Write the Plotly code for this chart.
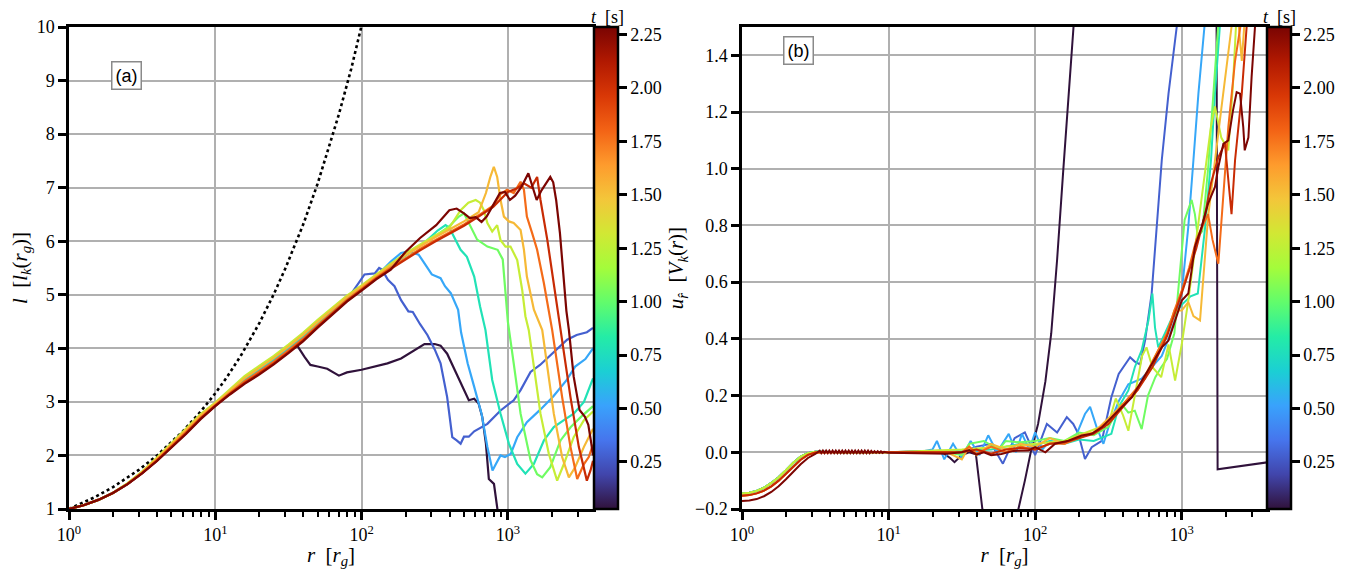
import plotly.graph_objects as go
from plotly.colors import sample_colorscale, sequential

# ---------------- data ----------------
T_MIN, T_MAX = 0.03, 2.285
times = [0.03, 0.28, 0.53, 0.78, 1.03, 1.28, 1.53, 1.78, 2.03, 2.28]
cbar_ticks = [0.25, 0.50, 0.75, 1.00, 1.25, 1.50, 1.75, 2.00, 2.25]

# Keplerian reference curve (dotted) in panel (a)
kep_r = [1, 1.25, 1.5, 2, 2.5, 3, 4, 5, 6, 8, 10, 12, 15, 20, 25, 30, 40, 50, 60, 70, 85, 100, 110]
kep_l = [1.0, 1.12, 1.22, 1.41, 1.58, 1.73, 2.0, 2.24, 2.45, 2.83, 3.16, 3.46, 3.87, 4.47, 5.0, 5.48,
         6.32, 7.07, 7.75, 8.37, 9.22, 10.0, 10.5]

# panel (a): common trunk, log10(r) and l, with the spread of the bundle around it
trunk_lr = [0.0, 0.1, 0.2, 0.3, 0.4, 0.5, 0.6, 0.7, 0.8, 0.9, 1.0, 1.1, 1.2, 1.3, 1.4, 1.5, 1.6, 1.7,
            1.8, 1.9, 2.0, 2.1, 2.2, 2.3, 2.4, 2.5, 2.6, 2.7, 2.8, 2.9, 3.0]
trunk_l = [1.0, 1.07, 1.17, 1.3, 1.47, 1.68, 1.92, 2.18, 2.45, 2.72, 2.95, 3.18, 3.4, 3.58, 3.77, 3.98,
           4.2, 4.45, 4.68, 4.92, 5.12, 5.33, 5.52, 5.7, 5.87, 6.03, 6.18, 6.33, 6.5, 6.68, 6.9]
trunk_spread = [0.0, 0.0, 0.0, 0.0, 0.1, 0.2, 0.4, 0.6, 0.7, 0.6, 0.4, 0.6, 0.9, 1.0, 1.0, 1.0, 1.0,
                0.9, 0.8, 0.7, 0.6, 0.6, 0.7, 0.8, 0.8, 0.8, 0.8, 0.8, 0.8, 0.8, 0.8]
a_shift = [-0.04, -0.03, 0.02, 0.04, 0.07, 0.09, 0.05, -0.02, -0.05, -0.07]

a_depart = [1.5, 1.9, 2.15, 2.35, 2.5, 2.6, 2.8, 2.9, 2.95, 2.25]
a_lr = [
    [1.56, 1.61, 1.65, 1.70, 1.765, 1.845, 1.90, 2.0, 2.086, 2.177, 2.27, 2.36, 2.43, 2.50, 2.54, 2.585,
     2.65, 2.70, 2.733, 2.77, 2.80, 2.825, 2.85, 2.87, 2.905, 2.93, 2.96, 3.0, 3.582],
    [1.95, 2.02, 2.09, 2.12, 2.14, 2.18, 2.225, 2.27, 2.32, 2.35, 2.40, 2.45, 2.50, 2.54, 2.585, 2.62,
     2.65, 2.677, 2.70, 2.733, 2.77, 2.86, 2.95, 3.04, 3.087, 3.155, 3.22, 3.31, 3.405, 3.47, 3.54, 3.582],
    [2.2, 2.27, 2.32, 2.39, 2.42, 2.48, 2.54, 2.57, 2.61, 2.66, 2.68, 2.725, 2.77, 2.82, 2.86, 2.895,
     2.92, 2.95, 2.98, 3.02, 3.064, 3.13, 3.22, 3.31, 3.4, 3.46, 3.53, 3.582],
    [2.45, 2.52, 2.574, 2.60, 2.63, 2.677, 2.72, 2.77, 2.81, 2.847, 2.893, 2.95, 3.007, 3.064, 3.12,
     3.178, 3.246, 3.314, 3.383, 3.45, 3.52, 3.582],
    [2.6, 2.66, 2.70, 2.74, 2.79, 2.86, 2.93, 2.965, 2.98, 3.0, 3.04, 3.087, 3.155, 3.20, 3.235, 3.29,
     3.36, 3.43, 3.50, 3.582],
    [2.677, 2.73, 2.78, 2.81, 2.836, 2.86, 2.893, 2.927, 2.95, 2.984, 3.018, 3.064, 3.098, 3.12, 3.143,
     3.223, 3.28, 3.337, 3.383, 3.45, 3.52, 3.582],
    [2.85, 2.88, 2.904, 2.927, 2.95, 2.973, 3.007, 3.04, 3.087, 3.11, 3.13, 3.178, 3.235, 3.314, 3.371,
     3.417, 3.46, 3.52, 3.582],
    [2.95, 2.995, 3.04, 3.087, 3.11, 3.13, 3.166, 3.2, 3.246, 3.303, 3.371, 3.428, 3.474, 3.52, 3.553, 3.582],
    [3.0, 3.064, 3.11, 3.16, 3.2, 3.223, 3.27, 3.314, 3.36, 3.428, 3.485, 3.54, 3.565, 3.582],
    [2.3, 2.4, 2.51, 2.60, 2.65, 2.70, 2.74, 2.78, 2.82, 2.855, 2.90, 2.946, 2.98, 3.014, 3.05, 3.094,
     3.14, 3.17, 3.197, 3.23, 3.29, 3.31, 3.33, 3.356, 3.38, 3.40, 3.417, 3.45, 3.47, 3.49, 3.527, 3.55,
     3.57, 3.582],
]
a_l = [
    [4.05, 3.84, 3.69, 3.66, 3.62, 3.49, 3.55, 3.6, 3.66, 3.72, 3.81, 3.97, 4.08, 4.08, 4.05, 3.9, 3.53,
     3.25, 3.03, 3.06, 2.97, 2.72, 2.22, 1.56, 1.47, 0.97, 0.3, -0.5, -0.5],
    [5.1, 5.38, 5.4, 5.5, 5.47, 5.28, 5.16, 4.9, 4.69, 4.68, 4.45, 4.25, 3.98, 3.72, 3.09, 2.34, 2.28,
     2.22, 2.35, 2.35, 2.45, 2.59, 2.84, 3.03, 3.22, 3.56, 3.69, 3.91, 4.16, 4.25, 4.3, 4.38],
    [5.62, 5.78, 5.81, 5.75, 5.63, 5.38, 5.31, 5.16, 5.03, 4.72, 4.3, 3.72, 3.28, 2.78, 2.16, 1.72, 1.85,
     2.0, 1.97, 2.03, 2.34, 2.62, 2.85, 3.1, 3.4, 3.66, 3.8, 4.0],
    [6.02, 6.2, 6.3, 6.25, 6.09, 5.84, 5.71, 5.34, 4.78, 4.34, 3.41, 2.78, 2.22, 1.84, 1.66, 1.84, 2.28,
     2.53, 2.66, 2.78, 3.0, 3.44],
    [6.28, 6.45, 6.52, 6.3, 6.03, 5.9, 5.84, 5.66, 5.2, 4.5, 3.72, 2.78, 1.91, 1.65, 1.59, 1.78, 2.28,
     2.53, 2.72, 2.92],
    [6.58, 6.72, 6.77, 6.72, 6.58, 6.34, 6.18, 6.30, 6.02, 5.90, 5.90, 5.65, 5.09, 4.6, 4.34, 2.78, 2.03,
     1.53, 1.84, 2.34, 2.66, 2.82],
    [6.9, 7.2, 7.39, 7.2, 6.77, 6.46, 6.37, 6.34, 6.21, 5.84, 5.34, 4.72, 4.34, 2.78, 1.97, 1.59, 1.78,
     2.16, 2.5],
    [6.88, 6.96, 6.9, 7.11, 6.96, 6.46, 6.15, 5.84, 5.22, 4.34, 3.09, 2.16, 1.56, 1.84, 1.97, 2.2],
    [6.92, 6.99, 7.08, 7.0, 7.2, 6.77, 6.02, 5.22, 4.34, 3.09, 2.16, 1.53, 1.72, 1.9],
    [5.8, 6.06, 6.30, 6.58, 6.61, 6.52, 6.43, 6.45, 6.36, 6.46, 6.67, 6.90, 6.92, 6.77, 6.85, 7.02, 7.27,
     7.02, 6.77, 6.95, 7.2, 7.1, 6.77, 6.15, 5.34, 4.7, 4.35, 3.47, 3.16, 2.85, 2.72, 2.57, 2.23, 2.0],
]

# panel (b): inner region (r < 10)
inner_lr = [0.0, 0.05, 0.1, 0.15, 0.2, 0.25, 0.3, 0.35, 0.4, 0.45, 0.5, 0.6, 0.7, 0.8, 0.9, 1.0]
inner_u_a = [-0.145, -0.143, -0.136, -0.125, -0.108, -0.088, -0.063, -0.037, -0.015, -0.003, 0.002,
             0.0, 0.0, 0.0, 0.0, 0.0]
inner_u_b = [-0.153, -0.151, -0.145, -0.135, -0.12, -0.1, -0.076, -0.05, -0.026, -0.009, -0.001,
             0.0, 0.0, 0.0, 0.0, 0.0]
dark_inner_lr = [0.0, 0.05, 0.1, 0.15, 0.2, 0.25, 0.3, 0.35, 0.4, 0.45, 0.5]
dark_inner_u = [-0.172, -0.17, -0.165, -0.155, -0.14, -0.12, -0.095, -0.068, -0.042, -0.02, -0.006]
ripple_lr = [0.53, 0.541, 0.552, 0.563, 0.574, 0.585, 0.596, 0.607, 0.618, 0.629, 0.64, 0.651, 0.662,
             0.673, 0.684, 0.695, 0.706, 0.717, 0.728, 0.739, 0.75, 0.761, 0.772, 0.783, 0.794, 0.805,
             0.816, 0.827, 0.838, 0.849, 0.86, 0.871, 0.882, 0.893, 0.904, 0.915, 0.926, 0.937, 0.948,
             0.959, 0.97, 1.0]
ripple_u = [0.006, -0.003, 0.006, -0.003, 0.006, -0.003, 0.006, -0.003, 0.006, -0.003, 0.006, -0.003,
            0.006, -0.003, 0.006, -0.003, 0.006, -0.003, 0.006, -0.003, 0.006, -0.003, 0.006, -0.003,
            0.006, -0.003, 0.006, -0.003, 0.006, -0.003, 0.006, -0.003, 0.005, -0.002, 0.004, -0.002,
            0.004, -0.002, 0.003, -0.002, 0.002, -0.002]

b_lr = [
    [1.2, 1.35, 1.42, 1.45, 1.5, 1.55, 1.596, 1.62, 1.64, 1.7, 1.76, 1.82, 1.886, 1.93, 1.97, 2.02, 2.07,
     2.11, 2.15, 2.19, 2.23, 2.28, 2.4, 2.8, 3.222, 3.245, 3.59],
    [1.3, 1.5, 1.6, 1.7, 1.78, 1.86, 1.93, 2.0, 2.08, 2.15, 2.216, 2.26, 2.295, 2.34, 2.386, 2.455, 2.52,
     2.57, 2.648, 2.68, 2.716, 2.75, 2.795, 2.83, 2.864, 2.91, 2.966, 3.05, 3.59],
    [1.2, 1.3, 1.33, 1.38, 1.44, 1.5, 1.56, 1.62, 1.68, 1.74, 1.82, 1.87, 1.91, 1.96, 2.0, 2.05, 2.1, 2.2,
     2.28, 2.34, 2.375, 2.42, 2.466, 2.5, 2.57, 2.636, 2.727, 2.795, 2.864, 2.91, 2.955, 3.0, 3.045, 3.08,
     3.114, 3.155, 3.25, 3.59],
    [1.5, 1.7, 1.8, 1.9, 2.0, 2.1, 2.2, 2.3, 2.4, 2.52, 2.57, 2.636, 2.68, 2.727, 2.773, 2.80, 2.818, 2.84,
     2.886, 2.93, 3.0, 3.06, 3.11, 3.16, 3.2, 3.227, 3.26, 3.59],
    [1.4, 1.5, 1.55, 1.65, 1.75, 1.8, 1.9, 2.0, 2.1, 2.2, 2.3, 2.4, 2.5, 2.59, 2.636, 2.68, 2.727, 2.77,
     2.82, 2.86, 2.9, 2.95, 2.98, 3.02, 3.068, 3.09, 3.11, 3.14, 3.18, 3.22, 3.26, 3.59],
    [1.5, 1.8, 2.0, 2.2, 2.3, 2.4, 2.5, 2.55, 2.6, 2.636, 2.68, 2.73, 2.76, 2.8, 2.86, 2.91, 2.955, 3.0,
     3.045, 3.1, 3.15, 3.2, 3.227, 3.27, 3.318, 3.35, 3.38, 3.59],
    [1.4, 1.5, 1.55, 1.6, 1.7, 1.8, 1.9, 2.0, 2.1, 2.2, 2.3, 2.4, 2.5, 2.6, 2.7, 2.8, 2.9, 2.95, 3.0,
     3.045, 3.08, 3.125, 3.18, 3.27, 3.34, 3.38, 3.41, 3.44, 3.59],
    [1.5, 1.55, 1.6, 1.7, 1.8, 1.9, 2.0, 2.1, 2.2, 2.3, 2.4, 2.5, 2.6, 2.7, 2.75, 2.8, 2.86, 2.9, 2.95,
     3.0, 3.05, 3.1, 3.18, 3.21, 3.25, 3.318, 3.364, 3.4, 3.59],
    [1.5, 1.6, 1.7, 1.8, 1.9, 2.0, 2.1, 2.2, 2.3, 2.4, 2.5, 2.6, 2.7, 2.8, 2.9, 3.0, 3.05, 3.1, 3.16, 3.2,
     3.25, 3.295, 3.32, 3.34, 3.364, 3.41, 3.443, 3.59],
    [1.2, 1.4, 1.5, 1.55, 1.6, 1.65, 1.7, 1.77, 1.85, 1.955, 2.0, 2.07, 2.136, 2.227, 2.318, 2.386, 2.455,
     2.52, 2.59, 2.66, 2.727, 2.795, 2.864, 2.91, 2.955, 3.0, 3.045, 3.09, 3.136, 3.18, 3.227, 3.25,
     3.284, 3.318, 3.35, 3.375, 3.398, 3.42, 3.43, 3.455, 3.477, 3.5, 3.59],
]
b_u = [
    [0.003, 0.005, -0.02, -0.035, -0.01, 0.0, -0.007, -0.11, -0.2, -0.38, -0.44, -0.38, -0.2, -0.1, 0.0,
     0.1, 0.25, 0.42, 0.68, 0.98, 1.25, 1.55, 2.5, 4.0, 5.0, -0.06, -0.035],
    [0.005, 0.0, 0.02, 0.03, -0.04, 0.05, 0.07, -0.01, 0.1, 0.07, 0.124, 0.1, 0.065, -0.024, 0.018, 0.04,
     0.194, 0.276, 0.335, 0.32, 0.31, 0.394, 0.56, 0.795, 1.03, 1.265, 1.5, 2.0, 5.0],
    [0.0, 0.01, 0.04, -0.025, 0.03, -0.02, 0.04, -0.01, 0.06, 0.0, 0.065, 0.0, 0.065, 0.01, 0.07, 0.01,
     0.04, 0.03, 0.06, 0.135, 0.16, 0.088, 0.03, 0.088, 0.18, 0.24, 0.26, 0.3, 0.34, 0.4, 0.47, 0.56,
     0.795, 1.03, 1.265, 1.5, 2.2, 5.0],
    [0.005, 0.01, 0.02, 0.03, 0.025, 0.04, 0.03, 0.045, 0.04, 0.065, 0.16, 0.218, 0.30, 0.36, 0.465, 0.56,
     0.44, 0.37, 0.42, 0.47, 0.52, 0.55, 0.56, 0.795, 1.03, 1.265, 1.5, 4.0],
    [0.0, -0.01, 0.03, 0.04, 0.01, 0.04, 0.035, 0.04, 0.05, 0.04, 0.07, 0.06, 0.09, 0.17, 0.14, 0.147,
     0.082, 0.2, 0.265, 0.3, 0.33, 0.42, 0.6, 0.82, 0.89, 0.84, 0.76, 0.78, 1.0, 1.3, 1.6, 4.0],
    [0.01, 0.02, 0.03, 0.04, 0.06, 0.08, 0.1, 0.19, 0.13, 0.076, 0.2, 0.34, 0.37, 0.3, 0.265, 0.38, 0.253,
     0.38, 0.535, 0.75, 0.95, 1.15, 1.22, 1.11, 1.065, 1.3, 1.6, 4.0],
    [0.0, -0.025, 0.02, -0.01, 0.03, 0.01, 0.03, 0.02, 0.05, 0.03, 0.06, 0.07, 0.12, 0.17, 0.22, 0.32,
     0.42, 0.5, 0.5, 0.53, 0.48, 0.465, 0.83, 1.21, 1.5, 1.56, 1.38, 1.6, 3.0],
    [0.0, 0.02, -0.005, 0.02, 0.0, 0.02, 0.01, 0.03, 0.03, 0.05, 0.07, 0.11, 0.17, 0.23, 0.26, 0.32, 0.38,
     0.42, 0.5, 0.57, 0.65, 0.75, 0.84, 0.75, 0.665, 1.147, 1.38, 1.5, 3.0],
    [0.0, 0.01, -0.005, 0.01, 0.015, 0.01, 0.03, 0.035, 0.05, 0.065, 0.1, 0.16, 0.22, 0.3, 0.41, 0.56,
     0.64, 0.72, 0.84, 0.95, 1.04, 1.09, 0.95, 0.84, 1.03, 1.265, 1.5, 3.0],
    [-0.003, -0.005, 0.0, 0.008, -0.008, 0.0, -0.01, -0.006, 0.005, 0.006, 0.018, 0.0, 0.03, 0.041, 0.059,
     0.065, 0.088, 0.124, 0.159, 0.194, 0.253, 0.312, 0.37, 0.394, 0.465, 0.535, 0.56, 0.724, 0.795,
     0.877, 0.936, 1.006, 1.088, 1.1, 1.206, 1.27, 1.265, 1.147, 1.065, 1.11, 1.324, 1.5, 2.5],
]
inner_variant = ["a", "a", "a", "a", "a", "a", "b", "b", "b", "dark"]

# ---------------- figure ----------------
PAGE_W, PAGE_H = 1363, 569
OFF = 8                                   # default page margin of the html body
W, H = PAGE_W - OFF, PAGE_H - OFF
REF_L, REF_R, REF_T, REF_B = 69, 1267, 27, 509   # plot area (both panels) in page pixels
ML, MT = REF_L - OFF, REF_T - OFF
MR, MB = PAGE_W - REF_R, PAGE_H - REF_B
PW, PH = REF_R - REF_L, REF_B - REF_T


def fx(px):   # page pixel -> paper x
    return (px - REF_L) / PW


def fy(py):   # page pixel -> paper y
    return (REF_B - py) / PH


turbo = sequential.Turbo
turbo_scale = [[i / (len(turbo) - 1), c] for i, c in enumerate(turbo)]
colors = sample_colorscale(turbo_scale, [(t - T_MIN) / (T_MAX - T_MIN) for t in times])

SERIF = "Liberation Serif, Times New Roman, Times, serif"
SANS = "Liberation Sans, Arial, Helvetica, sans-serif"

fig = go.Figure()

# panel (a)
fig.add_trace(go.Scatter(x=kep_r, y=kep_l, mode="lines", xaxis="x", yaxis="y",
                         line=dict(color="black", width=2.6, dash="dot"), showlegend=False))
for i, t in enumerate(times):
    keep = [k for k, lr in enumerate(trunk_lr) if lr <= a_depart[i]]
    xs = [trunk_lr[k] for k in keep] + a_lr[i]
    ys = [trunk_l[k] + a_shift[i] * trunk_spread[k] for k in keep] + a_l[i]
    fig.add_trace(go.Scatter(x=[10 ** v for v in xs], y=ys, mode="lines", xaxis="x", yaxis="y",
                             line=dict(color=colors[i], width=2.2), showlegend=False))

# panel (b)
for i, t in enumerate(times):
    if inner_variant[i] == "dark":
        xs = dark_inner_lr + ripple_lr
        ys = dark_inner_u + ripple_u
    elif inner_variant[i] == "b":
        xs, ys = list(inner_lr), list(inner_u_b)
    else:
        xs, ys = list(inner_lr), list(inner_u_a)
    xs = xs + b_lr[i]
    ys = ys + b_u[i]
    fig.add_trace(go.Scatter(x=[10 ** v for v in xs], y=ys, mode="lines", xaxis="x2", yaxis="y2",
                             line=dict(color=colors[i], width=2.0), showlegend=False))


def cbar(xpos):
    return dict(x=xpos, xanchor="left", xpad=0, y=1, yanchor="top", ypad=0,
                len=1, lenmode="fraction", thickness=24, thicknessmode="pixels",
                outlinewidth=2.5, outlinecolor="black", ticks="outside", ticklen=8, tickwidth=2.5,
                tickcolor="black", tickvals=cbar_ticks, ticktext=[f"{v:.2f}" for v in cbar_ticks],
                tickfont=dict(family=SERIF, size=18, color="black"))


for xa, ya, xp in (("x", "y", fx(594)), ("x2", "y2", fx(1267))):
    fig.add_trace(go.Scatter(x=[None], y=[None], mode="markers", xaxis=xa, yaxis=ya, showlegend=False,
                             marker=dict(color=[T_MIN], colorscale=turbo_scale, cmin=T_MIN, cmax=T_MAX,
                                         showscale=True, colorbar=cbar(xp))))

decades = [1, 10, 100, 1000]
dec_txt = ["10<sup>0</sup>", "10<sup>1</sup>", "10<sup>2</sup>", "10<sup>3</sup>"]
minor_vals = [2, 3, 4, 5, 6, 7, 8, 9, 20, 30, 40, 50, 60, 70, 80, 90,
              200, 300, 400, 500, 600, 700, 800, 900, 2000, 3000]
xtitle = "<i>r</i>  [<i>r</i><sub><i>g</i></sub>]"

common_ax = dict(showline=True, linewidth=2.5, linecolor="black", mirror=True, ticks="outside",
                 ticklen=8, tickwidth=2.5, tickcolor="black", showgrid=True, gridcolor="#b0b0b0",
                 gridwidth=1.5, zeroline=False, automargin=False,
                 tickfont=dict(family=SERIF, size=18, color="black"))


def xax(dom):
    return dict(common_ax, type="log", domain=dom, range=[0, 3.582], tickvals=decades, ticktext=dec_txt,
                minor=dict(tickvals=minor_vals, ticks="outside", ticklen=5, tickwidth=1.5,
                           tickcolor="black", showgrid=False),
                title=dict(text=xtitle, font=dict(family=SERIF, size=21, color="black"), standoff=4))


yl_vals = list(range(1, 11))
yr_vals = [-0.2, 0.0, 0.2, 0.4, 0.6, 0.8, 1.0, 1.2, 1.4]
yr_txt = ["\u22120.2", "0.0", "0.2", "0.4", "0.6", "0.8", "1.0", "1.2", "1.4"]


def note(text, px, py, family, size, boxed):
    d = dict(text=text, x=fx(px), y=fy(py), xref="paper", yref="paper", xanchor="center",
             yanchor="middle", showarrow=False, font=dict(family=family, size=size, color="black"))
    if boxed:
        d.update(bordercolor="#8a8a8a", borderwidth=1.5, borderpad=3, bgcolor="white")
    return d


fig.update_layout(
    width=W, height=H, margin=dict(l=ML, r=MR, t=MT, b=MB, pad=0, autoexpand=False),
    paper_bgcolor="white", plot_bgcolor="white", showlegend=False,
    xaxis=xax([0, fx(593)]),
    xaxis2=dict(xax([fx(742), 1]), anchor="y2"),
    yaxis=dict(common_ax, domain=[0, 1], range=[1, 10], tickvals=yl_vals,
               ticktext=[str(v) for v in yl_vals], anchor="x",
               title=dict(text="<i>l</i>  [<i>l</i><sub><i>k</i></sub>(<i>r</i><sub><i>g</i></sub>)]",
                          font=dict(family=SERIF, size=21, color="black"), standoff=6)),
    yaxis2=dict(common_ax, domain=[0, 1], range=[-0.2, 1.5], tickvals=yr_vals, ticktext=yr_txt,
                anchor="x2",
                title=dict(text="<i>u</i><sub><i>r\u0302</i></sub>  [<i>V</i><sub><i>k</i></sub>(<i>r</i>)]",
                           font=dict(family=SERIF, size=21, color="black"), standoff=6)),
    annotations=[
        note("(a)", 126, 76, SANS, 18, True),
        note("(b)", 798, 50, SANS, 18, True),
        note("<i>t</i>  [s]", 607, 17, SERIF, 18, False),
        note("<i>t</i>  [s]", 1279, 17, SERIF, 18, False),
    ],
)

fig.write_html("out.html")
